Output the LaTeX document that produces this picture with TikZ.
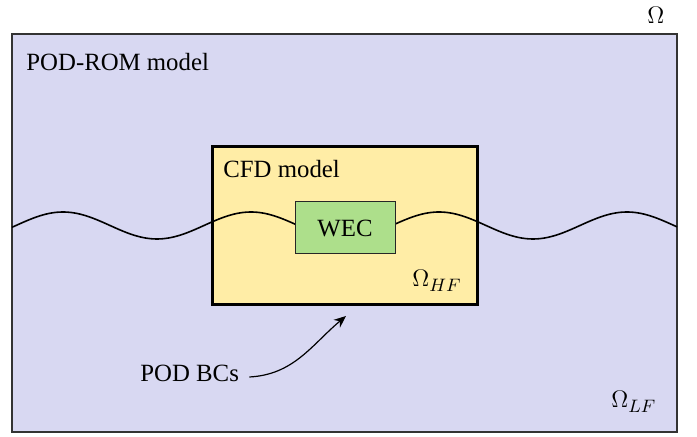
\documentclass[tikz,border=0pt]{standalone}
\usepackage{fontspec}
\setmainfont{Liberation Serif}
\usetikzlibrary{arrows.meta}

\definecolor{lofill}{RGB}{216,216,242}
\definecolor{hifill}{RGB}{255,237,166}
\definecolor{wecfill}{RGB}{173,223,139}

\begin{document}
\begin{tikzpicture}[
  x=0.5pt, y=-0.5pt,
  every node/.style={font=\fontsize{12.4}{14}\selectfont},
  region/.style={draw, inner sep=0pt},
  lowfid/.style={region, fill=lofill, draw=black!80, line width=0.6pt},
  highfid/.style={region, fill=hifill, line width=1.5pt},
  device/.style={region, fill=wecfill, draw=black!85, line width=0.5pt},
  wave/.style={line width=0.8pt},
  pointer/.style={-{Stealth[length=6pt,width=5pt]}, line width=0.6pt}
]
\useasboundingbox (0,0) rectangle (697,437);

% domains
\node[lowfid, minimum width=332.5pt, minimum height=199pt] (omlf) at (344.5,233) {};
\node[highfid, minimum width=132.5pt, minimum height=79pt] (omhf) at (344.5,226) {};

% free surface
\draw[wave] plot[domain=12:677, samples=120, smooth]
  (\x, {225.5 - 13.5*cos(1.91489*(\x-63))});

\node[device, minimum width=50pt, minimum height=26pt] (wec) at (345,228) {WEC};

% labels
\node[anchor=base west, inner sep=0pt] (rom) at (26,70.5) {POD-ROM model};
\node[anchor=base west, inner sep=0pt] (cfd) at (223,178) {CFD model};
\node[anchor=base west, inner sep=0pt] (lhf) at (412,287) {$\Omega_{HF}$};
\node[anchor=base west, inner sep=0pt] (llf) at (611,408) {$\Omega_{LF}$};
\node[anchor=base west, inner sep=0pt] (lom) at (647,24) {$\Omega$};
\node[anchor=base west, inner sep=0pt] (bcs) at (140,382) {POD BCs};

\coordinate (tip) at (346,316);
\draw[pointer] ([xshift=5pt,yshift=2.5pt]bcs.base east) to[out=3, in=-140] (tip);
\end{tikzpicture}
\end{document}
